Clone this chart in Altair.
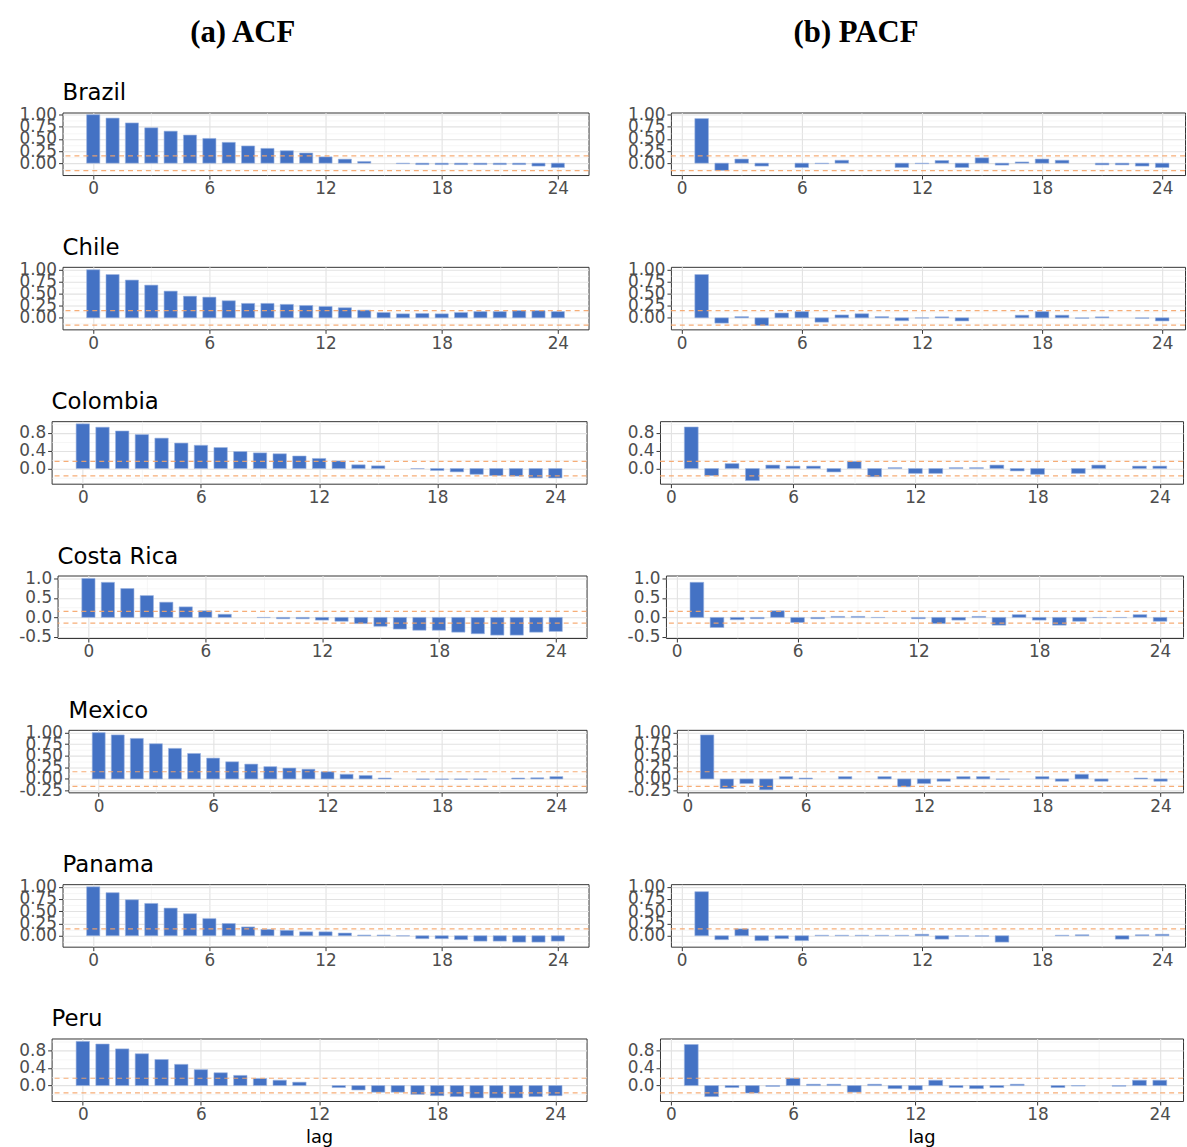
import math
import altair as alt
import pandas as pd

countries = ["Brazil", "Chile", "Colombia", "Costa Rica", "Mexico", "Panama", "Peru"]
lags_acf = list(range(0, 25))
lags_pacf = list(range(1, 25))

brazil_acf = [1.00, 0.93, 0.83, 0.73, 0.66, 0.58, 0.51, 0.43, 0.355, 0.305, 0.257, 0.21, 0.13, 0.083, 0.035, 0.0,
              -0.01, -0.03, -0.03, -0.03, -0.03, -0.03, -0.03, -0.06, -0.09]
brazil_pacf = [0.92, -0.15, 0.085, -0.06, 0.0, -0.09, -0.01, 0.06, 0.0, 0.0, -0.09, -0.01, 0.055, -0.09, 0.11,
               -0.04, 0.025, 0.085, 0.06, 0.0, -0.035, -0.035, -0.06, -0.09]
chile_acf = [1.00, 0.90, 0.785, 0.68, 0.555, 0.45, 0.43, 0.355, 0.30, 0.30, 0.28, 0.257, 0.236, 0.21, 0.16, 0.11,
             0.083, 0.09, 0.083, 0.11, 0.13, 0.13, 0.15, 0.15, 0.13]
chile_pacf = [0.90, -0.11, 0.025, -0.16, 0.10, 0.13, -0.09, 0.06, 0.085, 0.025, -0.06, -0.005, 0.02, -0.065, 0.0,
              0.0, 0.055, 0.13, 0.055, -0.01, 0.02, 0.0, -0.01, -0.065]
colombia_acf = [1.00, 0.925, 0.84, 0.76, 0.68, 0.57, 0.52, 0.47, 0.38, 0.35, 0.33, 0.28, 0.225, 0.17, 0.083, 0.06,
                0.0, -0.005, -0.045, -0.075, -0.13, -0.16, -0.17, -0.21, -0.21]
colombia_pacf = [0.93, -0.16, 0.11, -0.27, 0.077, 0.054, 0.054, -0.077, 0.16, -0.185, 0.02, -0.11, -0.11, 0.02,
                 0.02, 0.077, -0.054, -0.13, 0.0, -0.11, 0.077, 0.0, 0.054, 0.054]
costa_rica_acf = [1.00, 0.90, 0.74, 0.56, 0.39, 0.27, 0.17, 0.08, 0.0, -0.005, -0.035, -0.035, -0.07, -0.10, -0.16,
                  -0.23, -0.30, -0.33, -0.33, -0.38, -0.42, -0.455, -0.455, -0.38, -0.36]
costa_rica_pacf = [0.90, -0.26, -0.06, -0.035, 0.17, -0.13, -0.035, 0.025, 0.025, -0.005, 0.0, -0.035, -0.16,
                   -0.07, 0.025, -0.20, 0.07, -0.07, -0.20, -0.10, -0.005, -0.005, 0.07, -0.10]
mexico_acf = [1.00, 0.95, 0.875, 0.76, 0.66, 0.55, 0.45, 0.37, 0.32, 0.265, 0.235, 0.21, 0.155, 0.10, 0.075, 0.02,
              0.0, -0.01, -0.01, -0.01, -0.01, 0.0, 0.02, 0.025, 0.05]
mexico_pacf = [0.95, -0.205, -0.10, -0.235, 0.05, 0.02, 0.0, 0.05, 0.0, 0.05, -0.17, -0.10, -0.05, 0.05, 0.05,
               -0.01, 0.0, 0.05, -0.05, 0.10, -0.05, 0.0, 0.02, -0.05]
panama_acf = [1.00, 0.88, 0.735, 0.66, 0.565, 0.45, 0.35, 0.25, 0.18, 0.13, 0.11, 0.08, 0.08, 0.055, 0.015, 0.015,
              -0.005, -0.06, -0.06, -0.08, -0.11, -0.11, -0.13, -0.13, -0.11]
panama_pacf = [0.90, -0.08, 0.14, -0.10, -0.06, -0.10, 0.01, 0.01, 0.01, 0.01, 0.01, 0.03, -0.07, -0.01, -0.01,
               -0.13, 0.0, 0.0, 0.01, 0.02, 0.0, -0.07, 0.02, 0.03]
peru_acf = [1.00, 0.94, 0.83, 0.72, 0.59, 0.48, 0.36, 0.29, 0.23, 0.16, 0.12, 0.076, 0.0, -0.045, -0.10, -0.15,
            -0.15, -0.20, -0.23, -0.25, -0.28, -0.28, -0.28, -0.25, -0.23]
peru_pacf = [0.93, -0.25, -0.045, -0.17, -0.02, 0.165, 0.03, 0.03, -0.15, 0.03, -0.07, -0.10, 0.12, -0.045, -0.07,
             -0.045, 0.03, 0.0, -0.045, -0.01, 0.0, -0.015, 0.12, 0.12]

acf_values = [brazil_acf, chile_acf, colombia_acf, costa_rica_acf, mexico_acf, panama_acf, peru_acf]
pacf_values = [brazil_pacf, chile_pacf, colombia_pacf, costa_rica_pacf, mexico_pacf, panama_pacf, peru_pacf]

# confidence bounds (dashed lines)
ci_upper = [0.15, 0.15, 0.16, 0.155, 0.155, 0.14, 0.165]
ci_lower = [-0.155, -0.15, -0.165, -0.145, -0.16, None, -0.165]

# y axis per country
y_domains = [[-0.245, 1.045], [-0.24, 1.06], [-0.34, 1.06], [-0.53, 1.075], [-0.29, 1.06], [-0.224, 1.054],
             [-0.35, 1.065]]
y_steps = [0.25, 0.25, 0.4, 0.5, 0.25, 0.25, 0.4]
y_formats = [".2f", ".2f", ".1f", ".1f", ".2f", ".2f", ".1f"]
x_tick_labels = [0, 6, 12, 18, 24]

# layout: expected plot-area left edge of each ACF panel (depends on label width)
acf_frame_left = [60, 60, 51, 57, 68, 60, 51]
ACF_RIGHT = 590
PANEL_H = 63

rows = []
for c, a, p in zip(countries, acf_values, pacf_values):
    for lag, v in zip(lags_acf, a):
        rows.append({"country": c, "kind": "ACF", "lag": lag, "value": v})
    for lag, v in zip(lags_pacf, p):
        rows.append({"country": c, "kind": "PACF", "lag": lag, "value": v})
df = pd.DataFrame(rows)

ci_rows = []
for c, u, l in zip(countries, ci_upper, ci_lower):
    if u is not None:
        ci_rows.append({"country": c, "ci": u})
    if l is not None:
        ci_rows.append({"country": c, "ci": l})
ci_df = pd.DataFrame(ci_rows)

BAR = "#4472C4"
BAR_EDGE = "#9DB5E0"
CI_COL = "#F5A468"
FONT = "DejaVu Sans"


def cond(test, a, b):
    return {"condition": {"test": test, "value": a}, "value": b}


def spacer():
    # empty, invisible 1px-wide cell: lets each panel's y labels push its plot area right (as in ggplot)
    return alt.Chart(ci_df).transform_filter("false").mark_point(opacity=0).encode(
        x=alt.value(0), y=alt.value(0)
    ).properties(width=1, height=PANEL_H, view=alt.ViewBackground(strokeOpacity=0))


def panel(i, kind, width, last):
    c = countries[i]
    lo, hi = y_domains[i]
    step = y_steps[i]
    half = step / 2
    k0 = math.ceil(lo / half - 1e-9)
    k1 = math.floor(hi / half + 1e-9)
    yvals = [round(k * half, 4) for k in range(k0, k1 + 1)]
    ytest = f"abs(datum.value / {step} - round(datum.value / {step})) < 0.001"
    fmt = y_formats[i]
    yaxis = alt.Axis(
        values=yvals, title=None, domain=False, labelOverlap=False, labelFlush=False,
        labelExpr=f"{ytest} ? replace(format(datum.value, '{fmt}'), '\u2212', '-') : ''",
        tickOpacity=cond(ytest, 1, 0),
        gridWidth=cond(ytest, 1.1, 0.6),
        gridColor=cond(ytest, "#E2E2E2", "#EFEFEF"),
    )
    # the PACF column of the reference is cropped at the right edge of the figure
    xdom = [-1.585, 25.585] if kind == "ACF" else [-0.535, 25.14]
    xvals = list(range(0, 25, 3))
    xtest = "indexof(" + str(x_tick_labels) + ", datum.value) >= 0"
    xkw = dict(
        values=xvals, domain=False, labelOverlap=False, labelFlush=False,
        labelExpr=f"{xtest} ? datum.label : ''",
        tickOpacity=cond(xtest, 1, 0),
        gridWidth=cond(xtest, 1.1, 0.6),
        gridColor=cond(xtest, "#E2E2E2", "#EFEFEF"),
    )
    if last:
        xkw.update(title="lag", titleFont=FONT, titleFontSize=18, titleFontWeight="normal",
                   titleColor="black", titlePadding=6)
    else:
        xkw.update(title=None)
    xaxis = alt.Axis(**xkw)
    yscale = alt.Scale(domain=[lo, hi], nice=False, zero=False)

    bars = alt.Chart(df).transform_filter(
        (alt.datum.country == c) & (alt.datum.kind == kind) & (alt.datum.value != 0)
    ).transform_calculate(
        x0="datum.lag - 0.34", x1="datum.lag + 0.34"
    ).mark_bar(color=BAR, stroke=BAR_EDGE, strokeWidth=0.6).encode(
        x=alt.X("x0:Q", scale=alt.Scale(domain=xdom, nice=False, zero=False), axis=xaxis),
        x2="x1:Q",
        y=alt.Y("value:Q", scale=yscale, axis=yaxis),
        y2=alt.datum(0),
    )
    rules = alt.Chart(ci_df).transform_filter(alt.datum.country == c).mark_rule(
        color=CI_COL, strokeDash=[5, 4], strokeWidth=1.2, opacity=0.9
    ).encode(
        y=alt.Y("ci:Q", scale=yscale, axis=yaxis)
    )
    title_text = c if kind == "ACF" else " "
    p = alt.layer(bars, rules).properties(
        width=width, height=PANEL_H,
        title=alt.TitleParams(title_text, anchor="start", frame="group", font=FONT, fontSize=23,
                              fontWeight="normal", color="black", offset=1),
    )
    return alt.hconcat(spacer(), p, spacing=0)


n = len(countries)
left_panels = [panel(i, "ACF", ACF_RIGHT - acf_frame_left[i], i == n - 1) for i in range(n)]
right_panels = [panel(i, "PACF", ACF_RIGHT - acf_frame_left[i] - 12, i == n - 1) for i in range(n)]

ROW_GAP = 38.5
left_col = alt.vconcat(*left_panels, spacing=ROW_GAP).properties(
    title=alt.TitleParams("(a) ACF", font="Liberation Serif", fontSize=31, fontWeight="bold",
                          color="black", anchor="middle", dx=-61, offset=33)
)
right_col = alt.vconcat(*right_panels, spacing=ROW_GAP).properties(
    title=alt.TitleParams("(b) PACF", font="Liberation Serif", fontSize=31, fontWeight="bold",
                          color="black", anchor="middle", dx=-50, offset=33)
)

chart = alt.hconcat(left_col, right_col, spacing=35).properties(
    padding={"left": 17, "top": 12, "right": 0, "bottom": 0},
    background="white",
).configure_view(
    stroke="#333333", strokeWidth=1
).configure_axis(
    tickColor="#333333", labelColor="#4D4D4D", labelFont=FONT,
    labelFontSize=17, tickSize=4, labelPadding=2,
)

chart.save("out.html", embed_options={"renderer": "svg", "actions": False})
